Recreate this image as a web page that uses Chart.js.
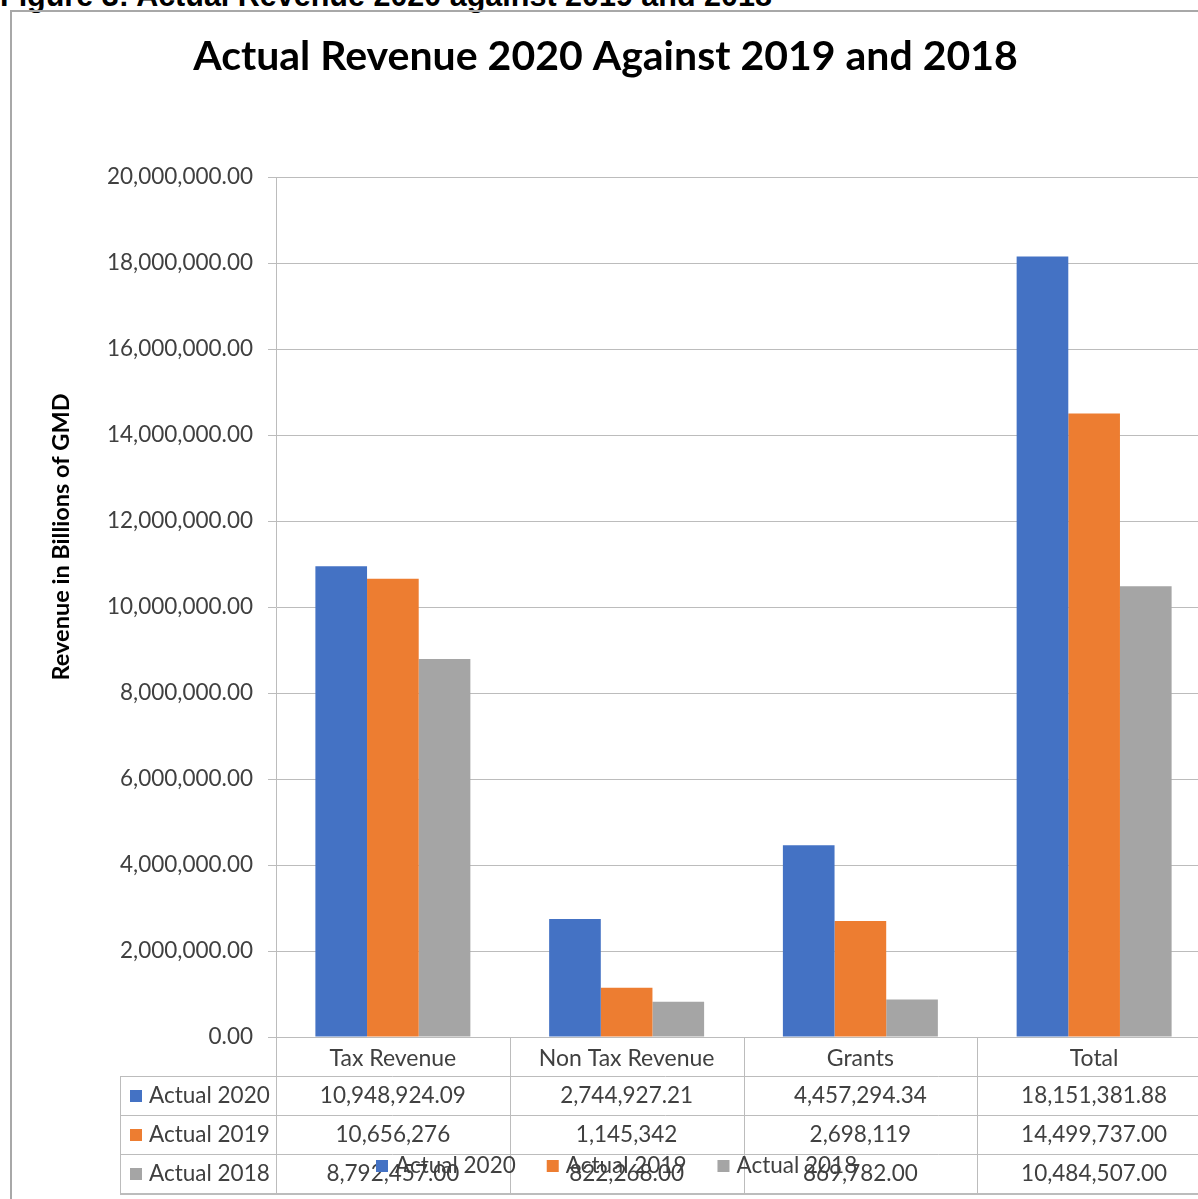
<!DOCTYPE html>
<html>
<head>
<meta charset="utf-8">
<script src="https://cdn.jsdelivr.net/npm/chart.js@4.4.1/dist/chart.umd.min.js"></script>
<style>
  html, body { margin: 0; padding: 0; background: #fff; overflow: hidden; width: 1198px; height: 1199px; }
  #caption {
    position: absolute; left: 0; top: -20px; white-space: nowrap;
    font: bold 30.5px "Liberation Sans", Arial, sans-serif; line-height: 30px; color: #000;
  }
  #frame {
    position: absolute; left: 10px; top: 10px; width: 1300px; height: 1300px;
    border: 2px solid #a8a8a8; box-sizing: border-box;
  }
  #chart { position: absolute; left: 0; top: 0; }
</style>
</head>
<body>
<div id="caption">Figure 3: Actual Revenue 2020 against 2019 and 2018</div>
<div id="frame"></div>
<canvas id="chart" width="1220" height="1199"></canvas>
<script>
// categories and series
const categories = ["Tax Revenue", "Non Tax Revenue", "Grants", "Total"];
const seriesNames = ["Actual 2020", "Actual 2019", "Actual 2018"];
const actual2020 = [10948924.09, 2744927.21, 4457294.34, 18151381.88];
const actual2019 = [10656276, 1145342, 2698119, 14499737.0];
const actual2018 = [8792457.0, 822268.0, 869782.0, 10484507.0];

// data table text, as printed under the chart
const table2020 = ["10,948,924.09", "2,744,927.21", "4,457,294.34", "18,151,381.88"];
const table2019 = ["10,656,276", "1,145,342", "2,698,119", "14,499,737.00"];
const table2018 = ["8,792,457.00", "822,268.00", "869,782.00", "10,484,507.00"];

const yTickLabels = [
  "0.00", "2,000,000.00", "4,000,000.00", "6,000,000.00", "8,000,000.00", "10,000,000.00",
  "12,000,000.00", "14,000,000.00", "16,000,000.00", "18,000,000.00", "20,000,000.00",
];
const yTitle = "Revenue in Billions of GMD";

const colors = ["#4472C4", "#ED7D31", "#A5A5A5"];
const textColor = "#404040";
const lineColor = "#bcbcbc";
const FONT = "Lato, 'Open Sans', sans-serif";

Chart.defaults.font.family = FONT;
Chart.defaults.color = textColor;

// y axis title, data table and the overlapping legend
const tablePlugin = {
  id: "dataTable",
  afterDraw(chart) {
    const ctx = chart.ctx;
    const x = chart.scales.x;
    const area = chart.chartArea;
    const rowH = 39;
    const top = area.bottom;
    const tableLeft = 120;
    const rows = [table2020, table2019, table2018];
    const n = categories.length;
    const step = x.getPixelForValue(1) - x.getPixelForValue(0);
    const bounds = [];
    for (let i = 0; i <= n; i++) bounds.push(x.getPixelForValue(0) - step / 2 + i * step);
    const bottom = top + rowH * (rows.length + 1);

    ctx.save();
    // axis title
    ctx.save();
    ctx.translate(61, 537);
    ctx.rotate(-Math.PI / 2);
    ctx.font = "bold 23.5px " + FONT;
    ctx.fillStyle = "#000";
    ctx.textAlign = "center";
    ctx.textBaseline = "middle";
    ctx.fillText(yTitle, 0, 0);
    ctx.restore();

    ctx.strokeStyle = lineColor;
    ctx.lineWidth = 1;
    ctx.beginPath();
    bounds.forEach((b) => {
      const xx = Math.round(b) + 0.5;
      ctx.moveTo(xx, top);
      ctx.lineTo(xx, bottom);
    });
    ctx.moveTo(tableLeft + 0.5, top + rowH);
    ctx.lineTo(tableLeft + 0.5, bottom);
    for (let r = 1; r <= rows.length; r++) {
      const yy = Math.round(top + r * rowH) + 0.5;
      ctx.moveTo(tableLeft, yy);
      ctx.lineTo(bounds[n], yy);
    }
    ctx.stroke();
    ctx.beginPath();
    ctx.lineWidth = 2;
    ctx.moveTo(tableLeft, Math.round(bottom) + 1);
    ctx.lineTo(bounds[n], Math.round(bottom) + 1);
    ctx.stroke();

    ctx.font = "22.5px " + FONT;
    ctx.textBaseline = "middle";
    rows.forEach((row, r) => {
      const cy = top + (r + 1.5) * rowH;
      ctx.fillStyle = colors[r];
      ctx.fillRect(130, Math.round(cy - 6), 12, 12);
      ctx.fillStyle = textColor;
      ctx.textAlign = "left";
      ctx.fillText(seriesNames[r], 149, cy);
      ctx.textAlign = "center";
      row.forEach((t, i) => ctx.fillText(t, x.getPixelForValue(i), cy));
    });

    // legend sits over the last table row, as in the original
    const ly = 1166;
    let lx = 376;
    ctx.textAlign = "left";
    seriesNames.forEach((name, i) => {
      ctx.fillStyle = colors[i];
      ctx.fillRect(lx, ly - 6, 12, 12);
      ctx.fillStyle = textColor;
      ctx.fillText(name, lx + 19, ly);
      lx += 19 + ctx.measureText(name).width + 31;
    });
    ctx.restore();
  },
};

new Chart(document.getElementById("chart"), {
  type: "bar",
  data: {
    labels: categories,
    datasets: [
      { label: seriesNames[0], data: actual2020, backgroundColor: colors[0] },
      { label: seriesNames[1], data: actual2019, backgroundColor: colors[1] },
      { label: seriesNames[2], data: actual2018, backgroundColor: colors[2] },
    ],
  },
  options: {
    responsive: false,
    devicePixelRatio: 1,
    animation: false,
    layout: { padding: { left: 0, right: 9, top: 0, bottom: 122 } },
    datasets: { bar: { categoryPercentage: 0.663, barPercentage: 1.0 } },
    plugins: {
      legend: { display: false },
      tooltip: { enabled: false },
      title: {
        display: true,
        text: "Actual Revenue 2020 Against 2019 and 2018",
        color: "#000",
        font: { size: 41, weight: "bold" },
        padding: { top: 32.4, bottom: 95.4 },
      },
    },
    scales: {
      x: {
        grid: { display: false, drawTicks: false },
        border: { display: false },
        ticks: { font: { size: 23 }, color: textColor, padding: 8 },
        afterFit: (s) => { s.height = 40; },
      },
      y: {
        min: 0,
        max: 20000000,
        grid: { color: lineColor, tickLength: 8 },
        border: { display: true, color: lineColor },
        ticks: {
          stepSize: 2000000,
          padding: 15,
          font: { size: 22.5 },
          color: textColor,
          callback: (v, i) => yTickLabels[i],
        },
        afterFit: (s) => { s.width = 276; },
      },
    },
  },
  plugins: [tablePlugin],
});
</script>
</body>
</html>
